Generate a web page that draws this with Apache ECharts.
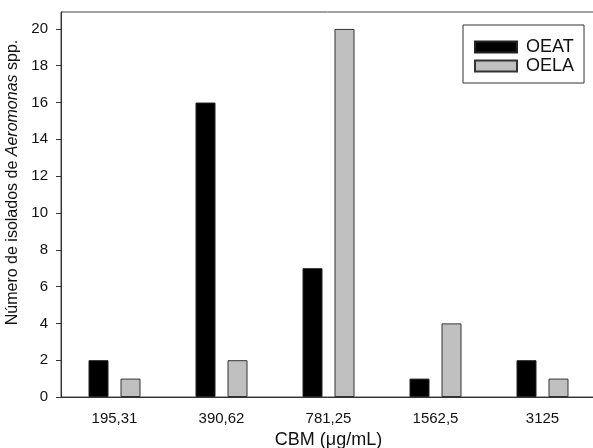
<!DOCTYPE html>
<html><head><meta charset="utf-8">
<script src="https://cdn.jsdelivr.net/npm/echarts@6/dist/echarts.min.js"></script>
<style>html,body{margin:0;padding:0;background:#fff}#c{width:593px;height:448px}</style>
</head><body><div id="c"></div>
<script>
var categories = ['195,31', '390,62', '781,25', '1562,5', '3125'];
var oeat = [2, 16, 7, 1, 2];
var oela = [1, 2, 20, 4, 1];
var yTicks = [0, 2, 4, 6, 8, 10, 12, 14, 16, 18, 20];
var F = '"Liberation Sans", Arial, sans-serif';
var chart = echarts.init(document.getElementById('c'), null, {renderer: 'canvas'});
chart.setOption({
  animation: false,
  backgroundColor: '#fff',
  grid: {left: 61, top: 12, width: 535, height: 385, outerBoundsMode: 'none', containLabel: false,
         show: true, borderColor: '#444', borderWidth: 1, backgroundColor: 'transparent'},
  legend: {
    orient: 'vertical', left: 463, top: 25,
    itemWidth: 42, itemHeight: 11, itemGap: 1,
    padding: [13, 10, 8, 11],
    borderColor: '#333', borderWidth: 1,
    textStyle: {fontFamily: F, fontSize: 18, color: '#111', padding: [0, 0, 0, 4]},
    data: [{name: 'OEAT', icon: 'rect'}, {name: 'OELA', icon: 'rect'}]
  },
  xAxis: {
    type: 'category', data: categories, boundaryGap: true,
    axisLine: {lineStyle: {color: '#333', width: 1}},
    axisTick: {alignWithLabel: true, length: 4, lineStyle: {color: '#333'}},
    axisLabel: {fontFamily: F, fontSize: 15, color: '#111', margin: 14},
    name: 'CBM (μg/mL)', nameLocation: 'middle', nameGap: 30,
    nameTextStyle: {fontFamily: F, fontSize: 18, color: '#111'}
  },
  yAxis: {
    type: 'value', min: 0, max: 20.92,
    splitLine: {show: false},
    axisLine: {show: true, lineStyle: {color: '#333', width: 1}},
    axisTick: {show: true, length: 5, customValues: yTicks, lineStyle: {color: '#333'}},
    axisLabel: {fontFamily: F, fontSize: 15, color: '#111', margin: 13, customValues: yTicks},
    name: '{n|Número de isolados de }{i|Aeromonas}{n| spp.}',
    nameLocation: 'middle', nameGap: 33, nameRotate: 90,
    nameTextStyle: {
      fontFamily: F, fontSize: 16, color: '#111', padding: [0, 0, 0, 44],
      rich: {
        n: {fontFamily: F, fontSize: 16, color: '#111'},
        i: {fontFamily: F, fontSize: 16, color: '#111', fontStyle: 'italic'}
      }
    }
  },
  series: [
    {name: 'OEAT', type: 'bar', data: oeat, barWidth: 20, barGap: '60%',
     itemStyle: {color: '#000', borderColor: '#222', borderWidth: 1}},
    {name: 'OELA', type: 'bar', data: oela, barWidth: 20,
     itemStyle: {color: '#c0c0c0', borderColor: '#333', borderWidth: 1}}
  ]
});
</script></body></html>
